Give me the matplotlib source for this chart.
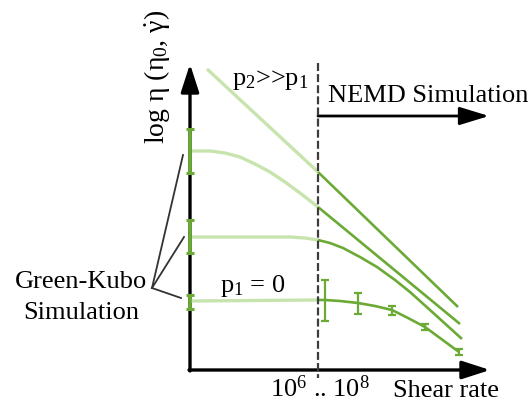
import numpy as np
import matplotlib
matplotlib.use("Agg")
import matplotlib.pyplot as plt

plt.rcParams["font.family"] = ["Liberation Serif", "DejaVu Serif"]
plt.rcParams["mathtext.fontset"] = "custom"
plt.rcParams["mathtext.rm"] = "Liberation Serif"
plt.rcParams["mathtext.it"] = "Liberation Serif"
plt.rcParams["mathtext.bf"] = "Liberation Serif:bold"

DARK = "#6aaa35"
LIGHT = "#c8e4ae"

# schematic curves (pixel units, y downwards)
top_light_x = [207, 318]
top_light_y = [69, 172]
top_dark_x = [318, 458]
top_dark_y = [172, 307]

c2_light_x = [192, 210, 225, 240, 255, 270, 285, 300, 318]
c2_light_y = [151, 151, 153, 157, 164, 172, 182, 193, 207]
c2_dark_x = [318, 460]
c2_dark_y = [207, 324]

c3_light_x = [192, 250, 290, 305, 318]
c3_light_y = [237, 237, 237, 238, 240]
c3_dark_x = [318, 330, 343, 360, 377, 395, 410, 430, 462]
c3_dark_y = [240, 243, 248, 257, 267, 280, 292, 310, 339]

c4_light_x = [191, 318]
c4_light_y = [301, 300]
c4_dark_x = [318, 325, 340, 358, 375, 392, 408, 425, 459]
c4_dark_y = [300, 300, 301, 303, 306, 310, 318, 327, 352]

# NEMD error bars on the p1 = 0 curve
eb_x = [325, 358, 392, 425, 459]
eb_y = [300, 303, 310, 327, 352]
eb_lo = [20, 10, 4, 3, 3]
eb_hi = [21, 11, 5, 3, 3]

# Green-Kubo values on the y axis
gk_y = [151, 237, 301]
gk_lo = [22, 17, 6]
gk_hi = [22, 16, 8]


fig = plt.figure(figsize=(5.31, 4.01), dpi=100)
ax = fig.add_axes([0, 0, 1, 1])
ax.set_xlim(0, 531)
ax.set_ylim(401, 0)
ax.axis("off")

# light (equilibrium) parts
for x, y in [(top_light_x, top_light_y), (c2_light_x, c2_light_y),
             (c3_light_x, c3_light_y), (c4_light_x, c4_light_y)]:
    ax.plot(x, y, color=LIGHT, lw=2.4, solid_capstyle="butt", zorder=2)

# dark (NEMD) parts
for x, y in [(top_dark_x, top_dark_y), (c2_dark_x, c2_dark_y),
             (c3_dark_x, c3_dark_y), (c4_dark_x, c4_dark_y)]:
    ax.plot(x, y, color=DARK, lw=1.9, solid_capstyle="butt", zorder=3)

ax.errorbar(eb_x, eb_y, yerr=[eb_lo, eb_hi], fmt="none", ecolor=DARK,
            elinewidth=1.6, capsize=3, capthick=1.6, zorder=4)

# axes arrows
arw = dict(arrowstyle="-|>,head_length=1.7,head_width=0.55", color="black",
           lw=2.4, shrinkA=0, shrinkB=0)
ax.annotate("", xy=(190, 64), xytext=(190, 371), arrowprops=arw, zorder=1)
ax.annotate("", xy=(490, 370), xytext=(189, 370), arrowprops=arw, zorder=1)

ax.errorbar([190] * 3, gk_y, yerr=[gk_lo, gk_hi], fmt="none", ecolor=DARK,
            elinewidth=2.6, capsize=3, capthick=2.2, zorder=5)

# dashed boundary + NEMD arrow
ax.plot([318, 318], [63, 378], color="#3c3c3c", lw=1.6,
        linestyle=(0, (3.6, 1.4)), zorder=6)
ax.annotate("", xy=(489, 116), xytext=(318, 116),
            arrowprops=dict(arrowstyle="-|>,head_length=1.8,head_width=0.55",
                            color="black", lw=2.0, shrinkA=0, shrinkB=0))

# Green-Kubo pointer lines
for tx, ty in [(183, 155), (184, 237), (181, 298)]:
    ax.plot([152, tx], [288, ty], color="#333333", lw=1.3)

fs = 19
ax.text(157, 77, r"log $\eta$ ($\eta_0$, $\dot{\gamma}$)", rotation=90,
        ha="center", va="center", fontsize=20)
ax.text(270, 80, r"p$_2$>>p$_1$", ha="center", va="center", fontsize=fs)
ax.text(328, 102, "NEMD Simulation", ha="left", va="baseline", fontsize=fs)
ax.text(81, 288, "Green-Kubo", ha="center", va="baseline", fontsize=fs)
ax.text(81, 319, "Simulation", ha="center", va="baseline", fontsize=fs)
ax.text(220, 292, r"p$_1$ = 0", ha="left", va="baseline", fontsize=fs)
ax.text(270, 397, r"10$^6$ .. 10$^8$", ha="left", va="baseline", fontsize=fs)
ax.text(393, 397, "Shear rate", ha="left", va="baseline", fontsize=fs)

fig.savefig("out.png", dpi=100)
